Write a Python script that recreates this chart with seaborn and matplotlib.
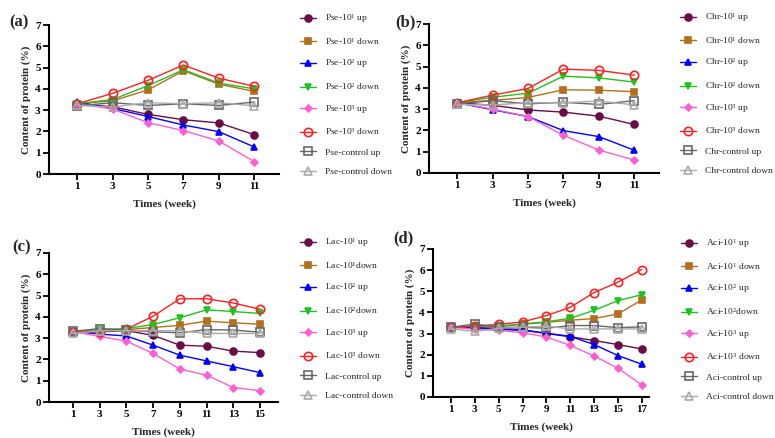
import matplotlib
matplotlib.use("Agg")
import matplotlib.pyplot as plt
import seaborn as sns
import numpy as np
import pandas as pd

# weeks for each panel
weeks_a = [1, 3, 5, 7, 9, 11]
weeks_b = [1, 3, 5, 7, 9, 11]
weeks_c = [1, 3, 5, 7, 9, 11, 13, 15]
weeks_d = [1, 3, 5, 7, 9, 11, 13, 15, 17]

# (a) Pse
pse_1_up = [3.3, 3.16, 2.8, 2.55, 2.4, 1.85]
pse_1_down = [3.3, 3.44, 3.95, 4.85, 4.22, 3.88]
pse_2_up = [3.38, 3.08, 2.7, 2.3, 1.99, 1.27]
pse_2_down = [3.3, 3.5, 4.15, 4.9, 4.27, 4.0]
pse_3_up = [3.3, 3.05, 2.41, 2.04, 1.55, 0.58]
pse_3_down = [3.3, 3.79, 4.4, 5.12, 4.5, 4.12]
pse_ctrl_up = [3.2, 3.35, 3.22, 3.3, 3.22, 3.38]
pse_ctrl_down = [3.22, 3.15, 3.35, 3.3, 3.35, 3.2]

# (b) Chr
chr_1_up = [3.3, 3.18, 2.96, 2.86, 2.67, 2.28]
chr_1_down = [3.3, 3.41, 3.55, 3.91, 3.89, 3.82]
chr_2_up = [3.3, 2.97, 2.65, 1.99, 1.71, 1.07]
chr_2_down = [3.3, 3.56, 3.75, 4.55, 4.47, 4.27]
chr_3_up = [3.3, 3.0, 2.65, 1.77, 1.08, 0.61]
chr_3_down = [3.3, 3.66, 3.97, 4.88, 4.82, 4.6]
chr_ctrl_up = [3.25, 3.4, 3.25, 3.32, 3.22, 3.4]
chr_ctrl_down = [3.22, 3.2, 3.3, 3.3, 3.38, 3.2]

# (c) Lac
lac_1_up = [3.3, 3.3, 3.35, 3.13, 2.67, 2.62, 2.39, 2.32]
lac_1_down = [3.3, 3.35, 3.4, 3.5, 3.6, 3.8, 3.72, 3.65]
lac_2_up = [3.32, 3.19, 3.1, 2.67, 2.2, 1.93, 1.66, 1.38]
lac_2_down = [3.3, 3.4, 3.45, 3.64, 3.96, 4.33, 4.25, 4.16]
lac_3_up = [3.3, 3.08, 2.86, 2.28, 1.55, 1.26, 0.68, 0.53]
lac_3_down = [3.3, 3.3, 3.42, 4.03, 4.85, 4.85, 4.65, 4.36]
lac_ctrl_up = [3.32, 3.45, 3.38, 3.3, 3.25, 3.4, 3.38, 3.28]
lac_ctrl_down = [3.22, 3.35, 3.35, 3.35, 3.35, 3.22, 3.22, 3.22]

# (d) Aci
aci_1_up = [3.3, 3.28, 3.25, 3.19, 3.0, 2.85, 2.67, 2.48, 2.27]
aci_1_down = [3.3, 3.35, 3.35, 3.44, 3.53, 3.63, 3.71, 3.93, 4.59]
aci_2_up = [3.33, 3.27, 3.2, 3.15, 3.02, 2.87, 2.48, 1.96, 1.55]
aci_2_down = [3.3, 3.35, 3.35, 3.45, 3.56, 3.72, 4.1, 4.56, 4.84]
aci_3_up = [3.3, 3.2, 3.15, 3.04, 2.84, 2.44, 1.94, 1.36, 0.57]
aci_3_down = [3.3, 3.35, 3.44, 3.55, 3.85, 4.24, 4.94, 5.43, 6.03]
aci_ctrl_up = [3.3, 3.45, 3.3, 3.3, 3.25, 3.38, 3.38, 3.28, 3.32]
aci_ctrl_down = [3.22, 3.1, 3.25, 3.3, 3.35, 3.22, 3.22, 3.22, 3.22]

suffixes = ["-10$^{1}$ up", "-10$^{1}$ down", "-10$^{2}$ up", "-10$^{2}$ down",
            "-10$^{3}$ up", "-10$^{3}$ down", "-control up", "-control down"]
suffixes_c = ["-10$^{1}$ up", "-10$^{1}$down", "-10$^{2}$ up", "-10$^{2}$down",
              "-10$^{3}$ up", "-10$^{3}$ down", "-control up", "-control down"]
suffixes_d = ["-10$^{1}$ up", "-10$^{1}$ down", "-10$^{2}$ up", "-10$^{2}$down",
              "-10$^{3}$ up", "-10$^{3}$ down", "-control up", "-control down"]

# colour, marker, filled, size
styles = [
    ("#6b0d45", "o", True, 5),
    ("#b46f1c", "s", True, 5),
    ("#0000ff", "^", True, 5),
    ("#1fc21f", "v", True, 5),
    ("#ff5fd0", "D", True, 3.5),
    ("#ff2020", "o", False, 6),
    ("#666666", "s", False, 5.5),
    ("#aaaaaa", "^", False, 5.5),
]

sns.set_theme(style="ticks")
plt.rcParams["font.family"] = ["Liberation Serif", "DejaVu Serif"]
plt.rcParams["mathtext.fontset"] = "custom"
plt.rcParams["mathtext.rm"] = "Liberation Serif"
plt.rcParams["mathtext.it"] = "Liberation Serif:italic"
plt.rcParams["mathtext.bf"] = "Liberation Serif:bold"

W, H = 775, 438
fig = plt.figure(figsize=(W / 100, H / 100), dpi=100)


def px_axes(left, right, top, bottom):
    return fig.add_axes([left / W, 1 - bottom / H, (right - left) / W, (bottom - top) / H])


panels = [
    dict(tag="(a)", prefix="Pse", weeks=weeks_a, suf=suffixes,
         series=[pse_1_up, pse_1_down, pse_2_up, pse_2_down, pse_3_up, pse_3_down, pse_ctrl_up, pse_ctrl_down],
         box=(49, 279, 25, 174), xlim=(-0.6, 12.4), tagpos=(9, 22), leg=(300, 12)),
    dict(tag="(b)", prefix="Chr", weeks=weeks_b, suf=suffixes,
         series=[chr_1_up, chr_1_down, chr_2_up, chr_2_down, chr_3_up, chr_3_down, chr_ctrl_up, chr_ctrl_down],
         box=(429, 659, 24, 173), xlim=(-0.6, 12.4), tagpos=(395, 22), leg=(680, 11)),
    dict(tag="(c)", prefix="Lac", weeks=weeks_c, suf=suffixes_c,
         series=[lac_1_up, lac_1_down, lac_2_up, lac_2_down, lac_3_up, lac_3_down, lac_ctrl_up, lac_ctrl_down],
         box=(49, 278, 253, 402), xlim=(-0.8, 16.35), tagpos=(12, 247), leg=(300, 236)),
    dict(tag="(d)", prefix="Aci", weeks=weeks_d, suf=suffixes_d,
         series=[aci_1_up, aci_1_down, aci_2_up, aci_2_down, aci_3_up, aci_3_down, aci_ctrl_up, aci_ctrl_down],
         box=(433, 649, 249, 397), xlim=(-0.5, 17.6), tagpos=(393, 238), leg=(681, 237)),
]

for p in panels:
    ax = px_axes(*p["box"])
    for vals, suf, (col, mk, filled, ms) in zip(p["series"], p["suf"], styles):
        sns.lineplot(x=p["weeks"], y=vals, ax=ax, color=col, marker=mk, markersize=ms,
                     markerfacecolor=col if filled else "none", markeredgecolor=col,
                     markeredgewidth=1.2, linewidth=1.0, label=p["prefix"] + suf)
    ax.set_xlim(*p["xlim"])
    ax.set_ylim(0, 7)
    ax.set_xticks(p["weeks"])
    ax.set_yticks(range(0, 8))
    ax.tick_params(axis="both", direction="out", length=4, width=1.3, labelsize=8, pad=2, colors="black")
    for lab in ax.get_xticklabels() + ax.get_yticklabels():
        lab.set_fontweight("bold")
    for side in ["left", "bottom"]:
        ax.spines[side].set_linewidth(1.5)
        ax.spines[side].set_color("black")
    sns.despine(ax=ax)
    ax.set_xlabel("Times (week)", fontsize=8, fontweight="bold", labelpad=6)
    ax.set_ylabel("Content of protein (%)", fontsize=8, fontweight="bold", labelpad=3)
    lx, ly = p["leg"]
    ax.legend(loc="upper left", bbox_to_anchor=(lx / W, 1 - ly / H), bbox_transform=fig.transFigure,
              frameon=False, fontsize=6.8, borderpad=0, borderaxespad=0, handlelength=1.7,
              handletextpad=0.95, labelspacing=1.13)
    tx, ty = p["tagpos"]
    fig.text(tx / W, 1 - ty / H, p["tag"], fontsize=12, fontweight="bold", va="center", ha="left")

fig.savefig("out.png", dpi=100)
